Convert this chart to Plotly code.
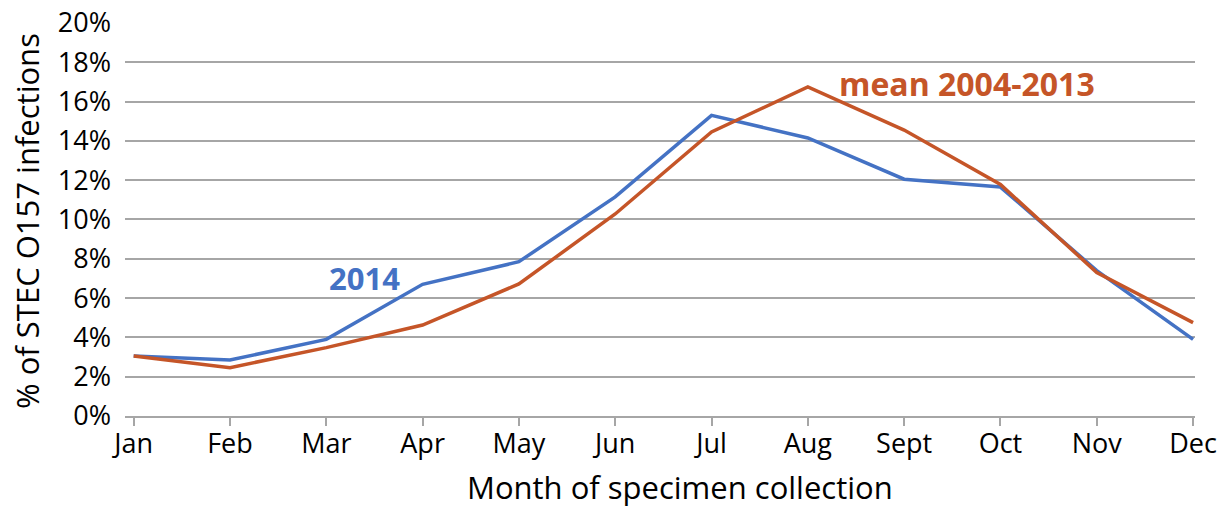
import plotly.graph_objects as go

months = ["Jan", "Feb", "Mar", "Apr", "May", "Jun", "Jul", "Aug", "Sept", "Oct", "Nov", "Dec"]
pct_2014 = [3.05, 2.85, 3.9, 6.7, 7.85, 11.15, 15.3, 14.15, 12.05, 11.65, 7.4, 3.9]
pct_mean = [3.05, 2.46, 3.48, 4.63, 6.72, 10.28, 14.45, 16.75, 14.55, 11.78, 7.3, 4.75]
y_ticks = [0, 2, 4, 6, 8, 10, 12, 14, 16, 18, 20]
y_tick_labels = [f"{v}%" for v in y_ticks]
x_title = "Month of specimen collection"
y_title = "% of STEC O157 infections"

BLUE = "#4472C4"
ORANGE = "#C55528"
FONT = "Open Sans"

x_idx = list(range(len(months)))

fig = go.Figure()
fig.add_trace(go.Scatter(x=x_idx, y=pct_2014, mode="lines", name="2014",
                         line=dict(color=BLUE, width=3.5), showlegend=False))
fig.add_trace(go.Scatter(x=x_idx, y=pct_mean, mode="lines", name="mean 2004-2013",
                         line=dict(color=ORANGE, width=3.5), showlegend=False))

fig.add_annotation(x=2.4, y=7.0, text="<b>2014</b>", showarrow=False,
                   font=dict(family=FONT, size=31, color=BLUE), xanchor="center", yanchor="middle")
fig.add_annotation(x=8.65, y=16.9, text="<b>mean 2004-2013</b>", showarrow=False,
                   font=dict(family=FONT, size=32, color=ORANGE), xanchor="center", yanchor="middle")

# axis titles placed as paper annotations
fig.add_annotation(xref="paper", yref="paper", x=0.5187, y=-0.181, text=x_title, showarrow=False,
                   font=dict(family=FONT, size=31, color="black"), xanchor="center", yanchor="middle")
fig.add_annotation(xref="paper", yref="paper", x=-0.0916, y=0.495, text=y_title, showarrow=False,
                   textangle=-90, font=dict(family=FONT, size=31, color="black"),
                   xanchor="center", yanchor="middle")

fig.update_layout(
    width=1225, height=508,
    margin=dict(l=125, r=30, t=22, b=92),
    paper_bgcolor="white", plot_bgcolor="white",
    font=dict(family=FONT, color="black"),
)
fig.update_xaxes(
    range=[-0.09, 11.02], tickmode="array", tickvals=x_idx, ticktext=months,
    showgrid=False, showline=True, linecolor="#A6A6A6", linewidth=1.5,
    ticks="outside", ticklen=8, tickcolor="#A6A6A6", tickwidth=1.5,
    tickfont=dict(size=27, family=FONT), zeroline=False, automargin=False,
    ticklabelstandoff=-5,
)
fig.update_yaxes(
    range=[0, 20.05], tickmode="array", tickvals=y_ticks, ticktext=y_tick_labels,
    showgrid=True, gridcolor="#A6A6A6", gridwidth=1.5, zeroline=False, automargin=False,
    showline=False, ticks="", tickfont=dict(size=27, family=FONT), ticklabelstandoff=13,
    ticklabeloverflow="allow",
)

# remove the browser's default 8px body margin so the figure fills the window exactly
fig.write_html("out.html", config={"displayModeBar": False},
               post_script="document.body.style.margin='0';document.body.style.overflow='hidden';")
